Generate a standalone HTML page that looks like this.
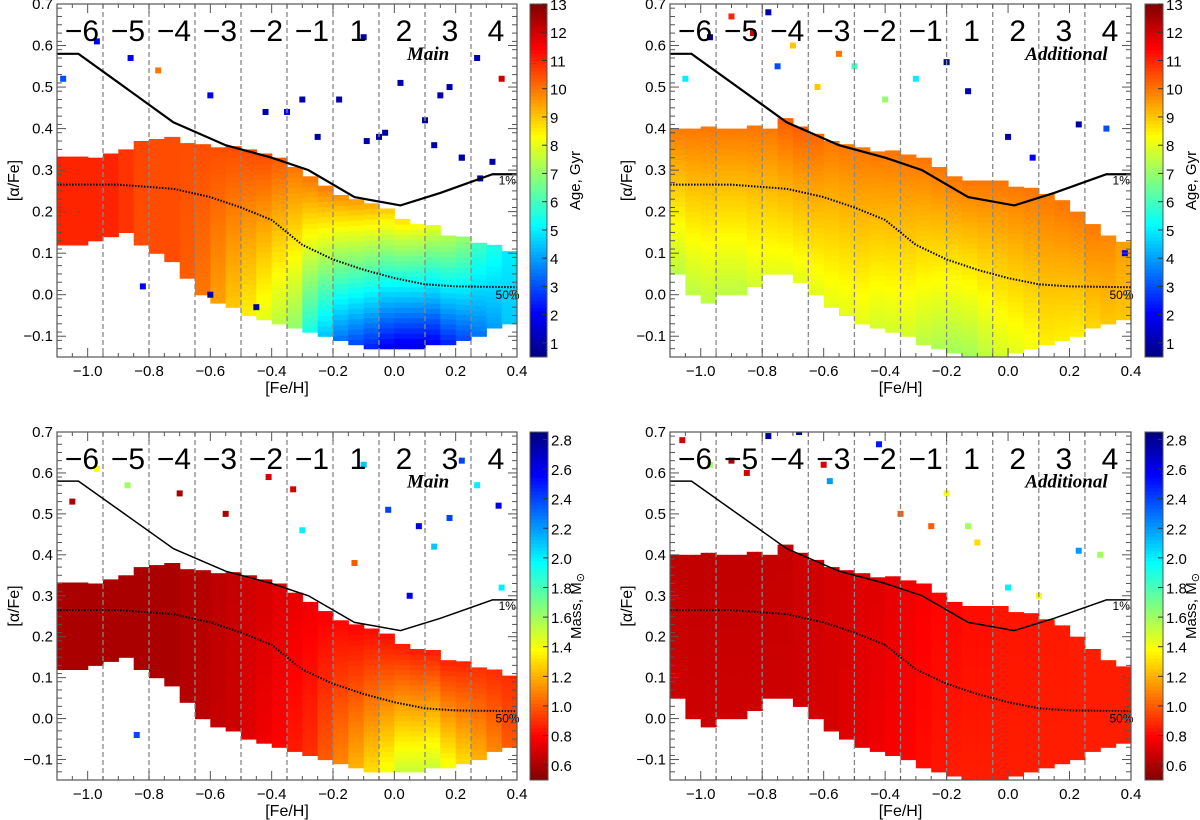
<!DOCTYPE html>
<html><head><meta charset="utf-8">
<style>
html,body{margin:0;padding:0;background:#fff;}
svg{display:block;font-family:"Liberation Sans",sans-serif;}
</style></head>
<body>
<svg id="fig" width="1200" height="820" viewBox="0 0 1200 820"></svg>
<script>
// ---- data (binned density envelopes) ----
const binCenters = [-1.075,-1.025,-0.975,-0.925,-0.875,-0.825,-0.775,-0.725,-0.675,-0.625,-0.575,-0.525,-0.475,-0.425,-0.375,-0.325,-0.275,-0.225,-0.175,-0.125,-0.075,-0.025,0.025,0.075,0.125,0.175,0.225,0.275,0.325,0.375];
const mainHi = [0.33,0.33,0.33,0.33,0.34,0.36,0.37,0.37,0.36,0.36,0.35,0.35,0.34,0.33,0.32,0.30,0.28,0.26,0.24,0.22,0.21,0.20,0.18,0.17,0.16,0.14,0.13,0.12,0.11,0.10];
const mainLo = [0.12,0.12,0.13,0.14,0.15,0.12,0.10,0.08,0.04,0.00,-0.02,-0.03,-0.05,-0.06,-0.07,-0.08,-0.09,-0.10,-0.11,-0.12,-0.13,-0.13,-0.13,-0.13,-0.12,-0.12,-0.11,-0.10,-0.08,-0.07];
const addHi = [0.40,0.40,0.40,0.40,0.40,0.40,0.40,0.42,0.40,0.38,0.37,0.36,0.35,0.34,0.34,0.33,0.32,0.30,0.28,0.27,0.27,0.27,0.26,0.25,0.24,0.22,0.20,0.17,0.14,0.12];
const addLo = [0.05,0.00,-0.02,0.00,0.00,0.02,0.05,0.05,0.03,0.00,-0.03,-0.05,-0.07,-0.08,-0.09,-0.10,-0.12,-0.13,-0.14,-0.15,-0.15,-0.15,-0.14,-0.13,-0.12,-0.11,-0.10,-0.08,-0.07,-0.06];
const ageMainHi = [11,11,11,11,10.8,10.6,10.5,10.5,10.5,10.5,10.5,10.5,10.5,10.5,10.3,10,10,10,9.8,9.5,9.3,9,8.8,8.5,8,7.5,7,6,5.5,5];
const ageMainLo = [11,11,11,11,10.8,10.5,10.5,10.5,10.3,10,9.5,9,8.5,8,7.5,7,5.5,4.5,3.5,3,2.5,2,1.8,1.8,2,2.5,3,3.5,4,4.5];
const ageAddHi = [10,10,10,10,10,10,10,10.3,10.3,10.2,10,10,10,10,10,10,10,10,10,10,10,10,10,10,10,10,10,10,9.8,9.5];
const ageAddLo = [7.5,7.5,7.5,7.5,7.5,7.8,8,8,8,8,8,8,8,7.8,7.8,7.8,7.5,7.3,7.2,7.2,7.5,7.8,8,8.2,8.5,8.5,8.5,8.8,9,9];
const massMainHi = [0.6,0.6,0.6,0.6,0.6,0.6,0.6,0.6,0.62,0.62,0.64,0.66,0.68,0.7,0.72,0.74,0.76,0.78,0.8,0.8,0.82,0.82,0.84,0.84,0.86,0.86,0.88,0.9,0.9,0.9];
const massMainLo = [0.6,0.6,0.6,0.6,0.6,0.6,0.6,0.6,0.62,0.64,0.66,0.68,0.72,0.76,0.8,0.85,0.9,1.0,1.1,1.2,1.3,1.4,1.5,1.5,1.5,1.4,1.3,1.2,1.1,1.0];
const massAddHi = [0.65,0.65,0.65,0.65,0.65,0.65,0.66,0.66,0.68,0.68,0.7,0.7,0.72,0.72,0.74,0.76,0.78,0.8,0.8,0.82,0.82,0.84,0.84,0.84,0.85,0.85,0.86,0.86,0.86,0.86];
const massAddLo = [0.68,0.68,0.68,0.68,0.68,0.68,0.68,0.68,0.68,0.7,0.7,0.72,0.74,0.76,0.78,0.8,0.82,0.84,0.86,0.86,0.86,0.86,0.86,0.86,0.86,0.86,0.86,0.86,0.86,0.86];
// 1% and 50% curves
const lineFe = [-1.1,-1.03,-0.72,-0.55,-0.4,-0.28,-0.13,0.02,0.15,0.32,0.4];
const lineAl = [0.58,0.58,0.415,0.36,0.33,0.30,0.235,0.215,0.245,0.29,0.29];
const medFe = [-1.1,-0.9,-0.72,-0.6,-0.5,-0.4,-0.3,-0.2,-0.1,0.0,0.1,0.2,0.4];
const medAl = [0.265,0.265,0.255,0.235,0.21,0.18,0.12,0.085,0.06,0.04,0.025,0.02,0.018];
// outliers
const outFeTL = [-0.97,-0.86,-0.77,-0.6,-0.42,-0.35,-0.3,-0.25,-0.18,-0.1,-0.05,0.02,0.1,0.15,0.18,0.22,0.27,0.28,0.32,0.35,-0.09,-0.03,0.13,0.22,-1.08,-0.82,-0.6,-0.45];
const outAlTL = [0.61,0.57,0.54,0.48,0.44,0.44,0.47,0.38,0.47,0.62,0.38,0.51,0.42,0.48,0.5,0.33,0.57,0.28,0.32,0.52,0.37,0.39,0.36,0.33,0.52,0.02,0.0,-0.03];
const outCTL = [2,2,10,2,1,2,1,1,1,1,1,1,1,1,1,1,1,1,1,12,1,1,1,1,3,2,1,1];
const outFeTR = [-1.05,-0.97,-0.9,-0.78,-0.75,-0.62,-0.5,-0.4,-0.3,-0.2,-0.13,0.0,0.08,0.23,0.32,0.38,-0.7,-0.55,-0.83];
const outAlTR = [0.52,0.62,0.67,0.68,0.55,0.5,0.55,0.47,0.52,0.56,0.49,0.38,0.33,0.41,0.4,0.1,0.6,0.58,0.63];
const outCTR = [5,1,11,1,3,9,6,7,5,1,1,1,2,1,3,2,9,10,12];
const outFeBL = [-1.05,-0.97,-0.87,-0.7,-0.55,-0.41,-0.33,-0.3,-0.13,-0.1,-0.02,0.05,0.08,0.13,0.18,0.22,0.27,0.34,0.35,-0.84];
const outAlBL = [0.53,0.61,0.57,0.55,0.5,0.59,0.56,0.46,0.38,0.62,0.51,0.3,0.47,0.42,0.49,0.63,0.57,0.52,0.32,-0.04];
const outCBL = [0.6,1.4,1.6,0.6,0.6,0.7,0.7,2.0,1.0,2.1,2.4,2.6,2.6,2.1,2.4,2.4,2.0,2.6,2.0,2.4];
const outFeBR = [-1.06,-0.97,-0.85,-0.78,-0.68,-0.58,-0.42,-0.35,-0.25,-0.2,-0.13,-0.1,0.0,0.1,0.23,0.3,-0.9,-0.6];
const outAlBR = [0.68,0.62,0.6,0.69,0.7,0.58,0.67,0.5,0.47,0.55,0.47,0.43,0.32,0.3,0.41,0.4,0.63,0.62];
const outCBR = [0.7,1.6,0.7,2.8,2.8,2.2,2.5,1.0,1.0,1.4,1.6,1.3,2.0,1.4,2.2,1.6,0.6,0.7];
const sectionEdges = [-0.95,-0.8,-0.65,-0.5,-0.35,-0.2,-0.05,0.1,0.25];
const sectionLabels = ["\u22126","\u22125","\u22124","\u22123","\u22122","\u22121","1","2","3","4"];
const xTicks = [-1.0,-0.8,-0.6,-0.4,-0.2,0.0,0.2,0.4];
const yTicks = [-0.1,0.0,0.1,0.2,0.3,0.4,0.5,0.6,0.7];
const ageTicks = [1,2,3,4,5,6,7,8,9,10,11,12,13];
const massTicks = [0.6,0.8,1.0,1.2,1.4,1.6,1.8,2.0,2.2,2.4,2.6,2.8];

const NS="http://www.w3.org/2000/svg";
const svg=document.getElementById('fig');
function mk(tag,attrs,parent){const e=document.createElementNS(NS,tag);for(const k in attrs)e.setAttribute(k,attrs[k]);(parent||svg).appendChild(e);return e;}
function jet(t){t=Math.max(0,Math.min(1,t));
  const r=Math.max(0,Math.min(1,1.5-Math.abs(4*t-3)));
  const g=Math.max(0,Math.min(1,1.5-Math.abs(4*t-2)));
  const b=Math.max(0,Math.min(1,1.5-Math.abs(4*t-1)));
  return `rgb(${Math.round(r*255)},${Math.round(g*255)},${Math.round(b*255)})`;}
function ageColor(v){return jet((v-0.5)/12.5);}
function massColor(v){return jet(1-(v-0.5)/2.35);}

function panel(cfg){
  const {x0,x1,y0,y1,cb0,cb1,name}=cfg;
  const g=mk('g',{});
  
  
  const X=v=>x0+(v+1.1)/1.5*(x1-x0);
  const Y=v=>y1-(v+0.15)/0.85*(y1-y0);
  const clipId='c'+name;
  const cp=mk('clipPath',{id:clipId},g);mk('rect',{x:x0,y:y0,width:x1-x0,height:y1-y0},cp);
  const dg=mk('g',{'clip-path':`url(#${clipId})`},g);
  
  
  const sub=3, dx=0.05/sub, dy=0.0125;
  binCenters.forEach((c,i)=>{
    const lo=cfg.lo[i], hi=cfg.hi[i];
    for(let s=0;s<sub;s++){
      const fx=c-0.025+s*dx;
      for(let a=lo;a<hi;a+=dy){
        const t=(a-lo)/Math.max(0.001,hi-lo);
        const v=cfg.cLo[i]+(cfg.cHi[i]-cfg.cLo[i])*t;
        mk('rect',{x:X(fx).toFixed(1),y:Y(a+dy).toFixed(1),width:(X(fx+dx)-X(fx)+0.6).toFixed(1),height:(Y(a)-Y(a+dy)+0.6).toFixed(1),fill:cfg.cmap(v)},dg);
      }
    }
  });
  cfg.oFe.forEach((f,i)=>{
    const p=mk('rect',{x:X(f)-3,y:Y(cfg.oAl[i])-3,width:6,height:6,fill:cfg.cmap(cfg.oC[i])},dg);
    
    
  });
  sectionEdges.forEach(s=>{const l=mk('line',{x1:X(s),x2:X(s),y1:y0,y2:y1,stroke:'#888','stroke-width':1.3,'stroke-dasharray':'5,3'},g);
    });
  const edges=[-1.1,...sectionEdges,0.4];
  sectionLabels.forEach((t,i)=>{const tx=mk('text',{x:X((edges[i]+edges[i+1])/2)+2,y:y0+37,'font-size':30,'text-anchor':'middle',fill:'#000'},g);tx.textContent=t;
    });
  const pl=mk('polyline',{points:lineFe.map((f,i)=>X(f)+','+Y(lineAl[i])).join(' '),fill:'none',stroke:'#000','stroke-width':cfg.top?2.2:1.5},g);
  
  const md=mk('polyline',{points:medFe.map((f,i)=>X(f)+','+Y(medAl[i])).join(' '),fill:'none',stroke:'#000','stroke-width':2,'stroke-dasharray':'1.5,1.5'},g);
  
  let t1=mk('text',{x:X(0.34),y:Y(0.265),'font-size':12,fill:'#000'},g);t1.textContent='1%';
  
  let t2=mk('text',{x:X(0.33),y:Y(-0.01),'font-size':12,fill:'#000'},g);t2.textContent='50%';
  
  let tt=mk('text',{x:X(cfg.titleX),y:Y(0.565),'font-size':19,'font-style':'italic','font-weight':'bold','font-family':'Liberation Serif, serif','text-anchor':'middle'},g);tt.textContent=cfg.title;
  
  mk('rect',{x:x0,y:y0,width:x1-x0,height:y1-y0,fill:'none',stroke:'#555','stroke-width':1.2},g);
  const tk=mk('g',{stroke:'#555','stroke-width':1},g);
  for(let k=0;k<=85;k++){const v=-0.15+k*0.01;const yy=Y(v);const major=Math.abs(v*10-Math.round(v*10))<1e-6;const L=major?9:(k%2==0?5:0);
    if(L){mk('line',{x1:x0,x2:x0+L,y1:yy,y2:yy},tk);mk('line',{x1:x1,x2:x1-L,y1:yy,y2:yy},tk);}}
  for(let k=0;k<=30;k++){const v=-1.1+k*0.05;const xx=X(v);const major=Math.abs(v*5-Math.round(v*5))<1e-6;const L=major?9:4;
    mk('line',{x1:xx,x2:xx,y1:y1,y2:y1-L},tk);mk('line',{x1:xx,x2:xx,y1:y0,y2:y0+L},tk);}
  yTicks.forEach(v=>{const t=mk('text',{x:x0-4,y:Y(v)+5,'font-size':15,'text-anchor':'end'},g);t.textContent=(v<0?'\u2212':'')+Math.abs(v).toFixed(1);
    });
  xTicks.forEach(v=>{const t=mk('text',{x:X(v),y:y1+19,'font-size':15,'text-anchor':'middle'},g);t.textContent=(v<-1e-9?'\u2212':'')+Math.abs(v).toFixed(1);
    });
  const xl=mk('text',{x:(x0+x1)/2,y:y1+36,'font-size':16,'text-anchor':'middle'},g);xl.textContent='[Fe/H]';
  
  const yl=mk('text',{x:0,y:0,'font-size':16,'text-anchor':'middle',transform:`translate(${x0-38},${(y0+y1)/2}) rotate(-90)`},g);yl.textContent='[\u03b1/Fe]';
  
  const cb=mk('g',{},g);
  
  const n=100;
  for(let k=0;k<n;k++){const v=cfg.vmin+(cfg.vmax-cfg.vmin)*(k+0.5)/n;
    const yy=y1-(k+1)/n*(y1-y0);mk('rect',{x:cb0,y:yy,width:cb1-cb0,height:(y1-y0)/n+0.5,fill:cfg.cmap(v)},cb);}
  mk('rect',{x:cb0,y:y0,width:cb1-cb0,height:y1-y0,fill:'none',stroke:'#555'},cb);
  const CY=v=>y1-(v-cfg.vmin)/(cfg.vmax-cfg.vmin)*(y1-y0);
  cfg.ticks.forEach(v=>{mk('line',{x1:cb1,x2:cb1-5,y1:CY(v),y2:CY(v),stroke:'#333'},cb);
    const t=mk('text',{x:cb1+3,y:CY(v)+6,'font-size':15},cb);t.textContent=cfg.tickFmt(v);
    });
  const ct=mk('text',{x:0,y:0,'font-size':15,'text-anchor':'middle',transform:`translate(${cb1+33},${(y0+y1)/2}) rotate(-90)`},cb);
  ct.innerHTML=cfg.cbTitle;
  
}
panel({name:'main-age',x0:57,x1:517,y0:4,y1:357,cb0:530,cb1:547,top:true,lo:mainLo,hi:mainHi,cLo:ageMainLo,cHi:ageMainHi,cmap:ageColor,
  oFe:outFeTL,oAl:outAlTL,oC:outCTL,title:'Main',titleX:0.11,vmin:0.5,vmax:13,ticks:ageTicks,tickFmt:v=>String(v),cbTitle:'Age, Gyr'});
panel({name:'additional-age',x0:670,x1:1131,y0:4,y1:357,cb0:1145,cb1:1163,top:true,lo:addLo,hi:addHi,cLo:ageAddLo,cHi:ageAddHi,cmap:ageColor,
  oFe:outFeTR,oAl:outAlTR,oC:outCTR,title:'Additional',titleX:0.19,vmin:0.5,vmax:13,ticks:ageTicks,tickFmt:v=>String(v),cbTitle:'Age, Gyr'});
panel({name:'main-mass',x0:57,x1:517,y0:432,y1:780,cb0:530,cb1:548,top:false,lo:mainLo,hi:mainHi,cLo:massMainLo,cHi:massMainHi,cmap:massColor,
  oFe:outFeBL,oAl:outAlBL,oC:outCBL,title:'Main',titleX:0.11,vmin:0.5,vmax:2.85,ticks:massTicks,tickFmt:v=>v.toFixed(1),cbTitle:'Mass, M<tspan font-size="11" dy="3">\u2299</tspan>'});
panel({name:'additional-mass',x0:670,x1:1131,y0:432,y1:780,cb0:1145,cb1:1163,top:false,lo:addLo,hi:addHi,cLo:massAddLo,cHi:massAddHi,cmap:massColor,
  oFe:outFeBR,oAl:outAlBR,oC:outCBR,title:'Additional',titleX:0.19,vmin:0.5,vmax:2.85,ticks:massTicks,tickFmt:v=>v.toFixed(1),cbTitle:'Mass, M<tspan font-size="11" dy="3">\u2299</tspan>'});
</script>
</body></html>
